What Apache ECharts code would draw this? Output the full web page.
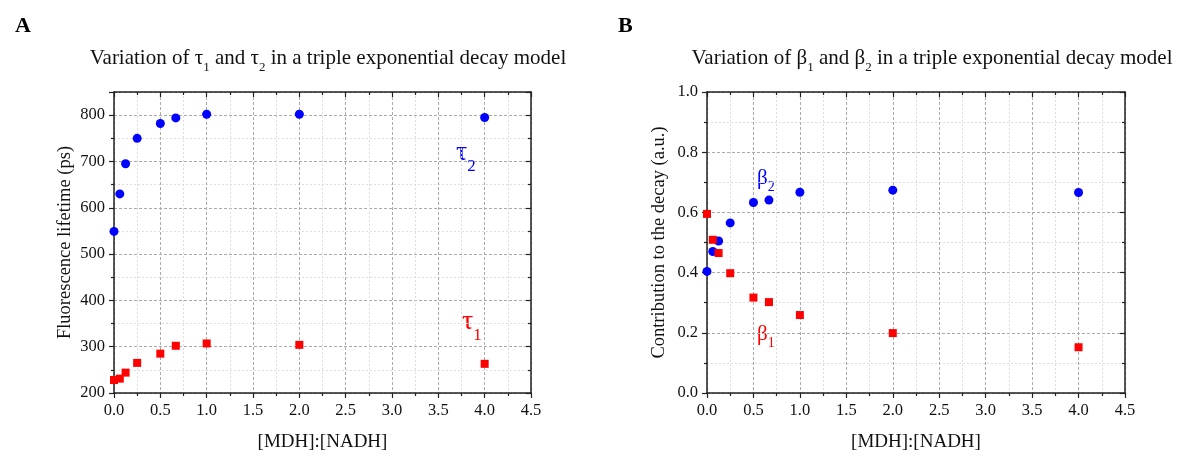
<!DOCTYPE html>
<html>
<head>
<meta charset="utf-8">
<script src="https://cdn.jsdelivr.net/npm/echarts@6/dist/echarts.min.js"></script>
<style>html,body{margin:0;padding:0;background:#fff}#c{width:1181px;height:457px}</style>
</head>
<body>
<div id="c"></div>
<script>
// ---- data ----
const ratio = [0, 0.0625, 0.125, 0.25, 0.5, 0.667, 1.0, 2.0, 4.0];
const tau1 = [228, 231, 244, 265, 285, 302, 307, 304, 263];
const tau2 = [549, 630, 695, 750, 782, 794, 802, 802, 795];
const beta1 = [0.595, 0.509, 0.465, 0.398, 0.317, 0.302, 0.259, 0.199, 0.152];
const beta2 = [0.404, 0.470, 0.505, 0.565, 0.633, 0.641, 0.667, 0.674, 0.666];
const xTicks = ['0.0','0.5','1.0','1.5','2.0','2.5','3.0','3.5','4.0','4.5'];

const FONT = '"Liberation Serif", "DejaVu Serif", serif';
const chart = echarts.init(document.getElementById('c'));

function pairs(xs, ys){ return xs.map((x,i)=>[x, ys[i]]); }

function xAxisBottom(gi){
  return {
    type:'value', gridIndex:gi, position:'bottom', min:0, max:4.5, interval:0.5,
    name:'[MDH]:[NADH]', nameLocation:'middle', nameGap:40,
    nameTextStyle:{fontFamily:FONT, fontSize:19, color:'#111'},
    axisLine:{show:true, onZero:false, lineStyle:{color:'#222', width:1.5}},
    axisTick:{show:true, inside:false, length:5, lineStyle:{color:'#222', width:1.2}},
    minorTick:{show:true, splitNumber:2, length:3, lineStyle:{color:'#222', width:1.2}},
    axisLabel:{fontFamily:FONT, fontSize:16.5, color:'#111', margin:9,
      formatter:(v)=>xTicks[Math.round(v/0.5)] },
    splitLine:{show:true, lineStyle:{color:'#aaa', type:[3,2], width:1}},
    minorSplitLine:{show:true, lineStyle:{color:'#ddd', type:[2,2], width:1}}
  };
}
function xAxisTop(gi){
  return {
    type:'value', gridIndex:gi, position:'top', min:0, max:4.5, interval:0.5,
    axisLine:{show:true, onZero:false, lineStyle:{color:'#222', width:1.5}},
    axisTick:{show:true, inside:true, length:5, lineStyle:{color:'#222', width:1.2}},
    minorTick:{show:true, splitNumber:2, length:3, lineStyle:{color:'#222', width:1.2}},
    axisLabel:{show:false}, splitLine:{show:false}
  };
}
function yAxisLeft(gi, min, max, interval, name, gap, showMax, fmt){
  return {
    type:'value', gridIndex:gi, position:'left', min:min, max:max, interval:interval,
    name:name, nameLocation:'middle', nameGap:gap,
    nameTextStyle:{fontFamily:FONT, fontSize:18.5, color:'#111'},
    axisLine:{show:true, onZero:false, lineStyle:{color:'#222', width:1.5}},
    axisTick:{show:true, inside:false, length:5, lineStyle:{color:'#222', width:1.2}},
    minorTick:{show:true, splitNumber:2, length:3, lineStyle:{color:'#222', width:1.2}},
    axisLabel:{fontFamily:FONT, fontSize:16.5, color:'#111', margin:9, showMaxLabel:showMax, formatter:fmt},
    splitLine:{show:true, lineStyle:{color:'#aaa', type:[3,2], width:1}},
    minorSplitLine:{show:true, lineStyle:{color:'#ddd', type:[2,2], width:1}}
  };
}
function yAxisRight(gi, min, max, interval){
  return {
    type:'value', gridIndex:gi, position:'right', min:min, max:max, interval:interval,
    axisLine:{show:true, onZero:false, lineStyle:{color:'#222', width:1.5}},
    axisTick:{show:true, inside:true, length:5, lineStyle:{color:'#222', width:1.2}},
    minorTick:{show:true, splitNumber:2, length:3, lineStyle:{color:'#222', width:1.2}},
    axisLabel:{show:false}, splitLine:{show:false}
  };
}

// rich styles for title (echarts text style -> color)
const titleRich = {
  b:{fontFamily:FONT, fontSize:21, fontWeight:'normal', color:'#111', verticalAlign:'bottom', lineHeight:24, padding:[0,0,5,0]},
  s:{fontFamily:FONT, fontSize:13, fontWeight:'normal', color:'#111', verticalAlign:'bottom', lineHeight:15}
};
// rich styles for graphic text (zrender style -> fill)
const gRich = (color, base, sub, lift) => ({
  b:{fontFamily:FONT, fontSize:base, fill:color, verticalAlign:'bottom', lineHeight:base+2, padding:[0,0,lift,0]},
  s:{fontFamily:FONT, fontSize:sub, fill:color, verticalAlign:'bottom', lineHeight:sub+2}
});

chart.setOption({
  animation:false,
  backgroundColor:'#fff',
  title:[
    {text:'A', left:10, top:10, textStyle:{fontFamily:FONT, fontSize:22, fontWeight:'bold', color:'#000'}},
    {text:'B', left:613, top:10, textStyle:{fontFamily:FONT, fontSize:22, fontWeight:'bold', color:'#000'}},
    {text:'{b|Variation of τ}{s|1}{b| and τ}{s|2}{b| in a triple exponential decay model}', left:323, top:45, textAlign:'center',
      textStyle:{fontWeight:'normal', rich:titleRich}},
    {text:'{b|Variation of β}{s|1}{b| and β}{s|2}{b| in a triple exponential decay model}', left:927, top:45, textAlign:'center',
      textStyle:{fontWeight:'normal', rich:titleRich}}
  ],
  grid:[
    {left:114, top:92, width:417, height:306, containLabel:false},
    {left:707, top:92, width:418, height:306, containLabel:false}
  ],
  xAxis:[xAxisBottom(0), xAxisTop(0), xAxisBottom(1), xAxisTop(1)],
  yAxis:[
    yAxisLeft(0, 200, 850, 100, 'Fluorescence lifetime (ps)', 39, false, (v)=>String(v)),
    yAxisRight(0, 200, 850, 100),
    yAxisLeft(1, 0, 1.0, 0.2, 'Contribution to the decay (a.u.)', 38, true, (v)=>v.toFixed(1)),
    yAxisRight(1, 0, 1.0, 0.2)
  ],
  series:[
    {type:'scatter', xAxisIndex:0, yAxisIndex:0, data:pairs(ratio, tau2), symbol:'circle', symbolSize:9, itemStyle:{color:'#0000ff', opacity:1}, clip:true},
    {type:'scatter', xAxisIndex:0, yAxisIndex:0, data:pairs(ratio, tau1), symbol:'rect', symbolSize:8, itemStyle:{color:'#ff0000', opacity:1}, clip:true},
    {type:'scatter', xAxisIndex:2, yAxisIndex:2, data:pairs(ratio, beta2), symbol:'circle', symbolSize:9, itemStyle:{color:'#0000ff', opacity:1}, clip:true},
    {type:'scatter', xAxisIndex:2, yAxisIndex:2, data:pairs(ratio, beta1), symbol:'rect', symbolSize:8, itemStyle:{color:'#ff0000', opacity:1}, clip:true}
  ],
  graphic:[
    {type:'text', left:456, top:139, style:{text:'{b|τ}{s|2}', rich:gRich('#0000ff', 28, 17, 8)}},
    {type:'text', left:462, top:308, style:{text:'{b|τ}{s|1}', rich:gRich('#ff0000', 28, 17, 8)}},
    {type:'text', left:757, top:168, style:{text:'{b|β}{s|2}', rich:gRich('#0000ff', 21, 14, 5)}},
    {type:'text', left:757, top:324, style:{text:'{b|β}{s|1}', rich:gRich('#ff0000', 21, 14, 5)}}
  ]
});
</script>
</body>
</html>
